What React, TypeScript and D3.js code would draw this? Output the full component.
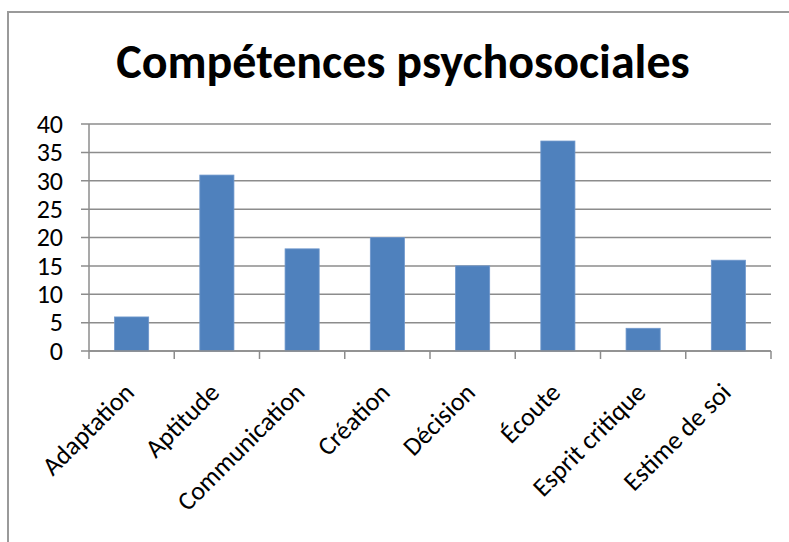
import React, { useEffect, useRef } from 'react';
import * as d3 from 'd3';

const categories = [
  'Adaptation',
  'Aptitude',
  'Communication',
  'Création',
  'Décision',
  'Écoute',
  'Esprit critique',
  'Estime de soi',
];
const values = [6, 31, 18, 20, 15, 37, 4, 16];
const yTicks = [0, 5, 10, 15, 20, 25, 30, 35, 40];
const title = 'Compétences psychosociales';

const FONT = 'Carlito, Calibri, Lato, sans-serif';

const App = () => {
  const svgRef = useRef<SVGSVGElement>(null);

  useEffect(() => {
    const svg = d3.select(svgRef.current);
    svg.selectAll('*').remove();

    const plot = { left: 89, right: 771, top: 124, bottom: 351 };

    // chart frame
    svg.append('rect')
      .attr('x', 8)
      .attr('y', 12)
      .attr('width', 800)
      .attr('height', 560)
      .attr('fill', 'white')
      .attr('stroke', '#9a9a9a')
      .attr('stroke-width', 2);

    svg.append('text')
      .attr('x', 403)
      .attr('y', 78)
      .attr('text-anchor', 'middle')
      .attr('font-family', FONT)
      .attr('font-weight', 'bold')
      .attr('font-size', 48)
      .attr('fill', '#000')
      .text(title);

    const x = d3.scaleBand<string>()
      .domain(categories)
      .range([plot.left, plot.right])
      .paddingInner(0.6)
      .paddingOuter(0.3);

    const y = d3.scaleLinear()
      .domain([0, 40])
      .range([plot.bottom, plot.top]);

    // gridlines
    svg.append('g')
      .selectAll('line')
      .data(yTicks)
      .join('line')
      .attr('x1', plot.left - 8)
      .attr('x2', plot.right)
      .attr('y1', d => y(d))
      .attr('y2', d => y(d))
      .attr('stroke', '#8c8c8c')
      .attr('stroke-width', 1.5);

    // y labels
    svg.append('g')
      .selectAll('text')
      .data(yTicks)
      .join('text')
      .attr('x', 63)
      .attr('y', d => y(d))
      .attr('dy', '0.34em')
      .attr('text-anchor', 'end')
      .attr('font-family', FONT)
      .attr('font-size', 26)
      .attr('fill', '#000')
      .text(d => d);

    // y axis line
    svg.append('line')
      .attr('x1', plot.left)
      .attr('x2', plot.left)
      .attr('y1', plot.top)
      .attr('y2', plot.bottom)
      .attr('stroke', '#8c8c8c')
      .attr('stroke-width', 1.5);

    // bars
    svg.append('g')
      .selectAll('rect')
      .data(values)
      .join('rect')
      .attr('x', (d, i) => x(categories[i]))
      .attr('y', d => y(d))
      .attr('width', x.bandwidth())
      .attr('height', d => y(0) - y(d))
      .attr('fill', '#4f81bd')
      .attr('stroke', '#6f97cc')
      .attr('stroke-width', 0.8);

    // x axis line + ticks at category boundaries
    const step = x.step();
    const bounds = d3.range(categories.length + 1).map(i => plot.left + i * step);
    svg.append('line')
      .attr('x1', plot.left)
      .attr('x2', plot.right)
      .attr('y1', plot.bottom)
      .attr('y2', plot.bottom)
      .attr('stroke', '#8c8c8c')
      .attr('stroke-width', 1.5);
    svg.append('g')
      .selectAll('line')
      .data(bounds)
      .join('line')
      .attr('x1', d => d)
      .attr('x2', d => d)
      .attr('y1', plot.bottom)
      .attr('y2', plot.bottom + 8)
      .attr('stroke', '#8c8c8c')
      .attr('stroke-width', 1.5);

    // rotated category labels
    svg.append('g')
      .selectAll('text')
      .data(categories)
      .join('text')
      .attr('transform', d => `translate(${x(d) + x.bandwidth() / 2 + 4},${plot.bottom + 43}) rotate(-45)`)
      .attr('text-anchor', 'end')
      .attr('font-family', FONT)
      .attr('font-size', 26)
      .attr('fill', '#000')
      .text(d => d);
  }, []);

  return (
    <div style={{ position: 'fixed', left: 0, top: 0 }}>
      <svg ref={svgRef} width="789" height="542"></svg>
    </div>
  );
};

export default App;
